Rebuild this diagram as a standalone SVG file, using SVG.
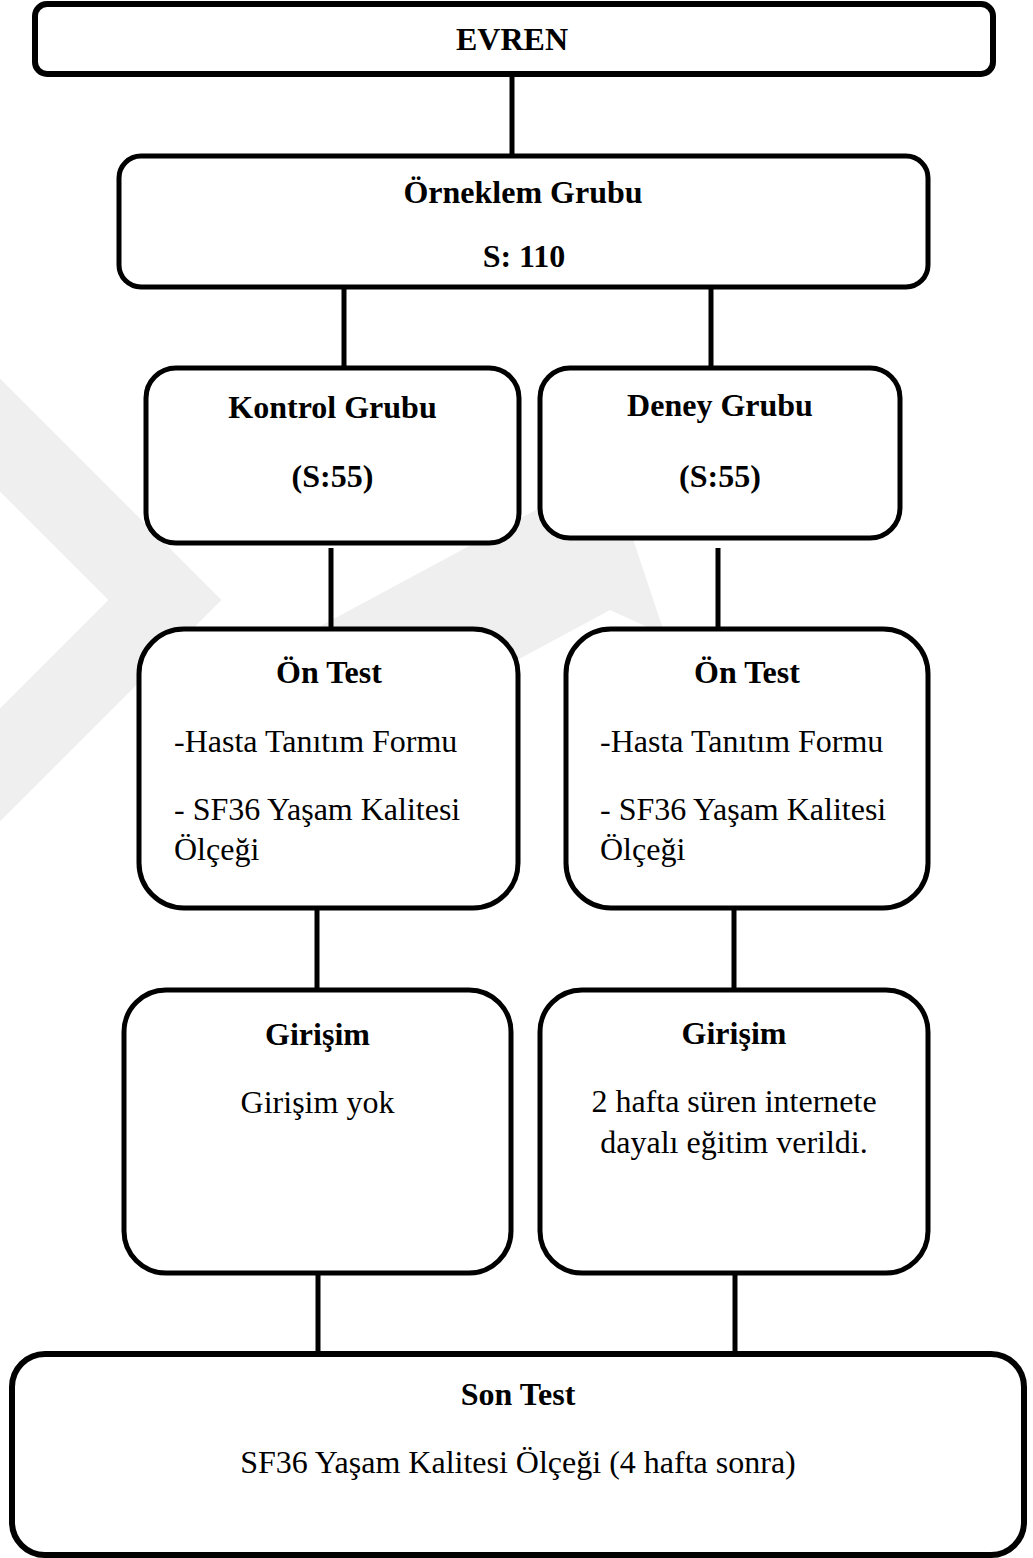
<svg xmlns="http://www.w3.org/2000/svg" width="1033" height="1558" viewBox="0 0 1033 1558">
<style>
.box{fill:#fff;stroke:#000;stroke-width:5}
.thick{stroke-width:6}
.ln{stroke:#000;stroke-width:5;fill:none}
.wm{fill:none;stroke:#efefef;stroke-width:80;stroke-linejoin:miter}
.wmf{fill:#efefef;stroke:none}
text{font-family:"Liberation Serif","Times New Roman",serif;font-size:32px;fill:#000}
.b{font-weight:bold}
.c{text-anchor:middle}
</style>
<rect width="1033" height="1558" fill="#fff"/>
<g id="watermark">
<path class="wm" d="M -80,355 L 165,600 L -80,845"/>
<polygon class="wmf" points="250,664 610,470 665,635 610,610 250,804"/>
</g>
<g id="connectors">
<line class="ln" x1="512" y1="76" x2="512" y2="156"/>
<line class="ln" x1="344" y1="287" x2="344" y2="368"/>
<line class="ln" x1="711" y1="287" x2="711" y2="368"/>
<line class="ln" x1="331" y1="548" x2="331" y2="629"/>
<line class="ln" x1="718" y1="548" x2="718" y2="629"/>
<line class="ln" x1="317" y1="908" x2="317" y2="990"/>
<line class="ln" x1="734" y1="908" x2="734" y2="990"/>
<line class="ln" x1="318" y1="1273" x2="318" y2="1354"/>
<line class="ln" x1="735" y1="1273" x2="735" y2="1354"/>
</g>
<g id="evren">
<rect class="box thick" x="35" y="4" width="958" height="70" rx="12"/>
<text class="b c" x="512" y="50">EVREN</text>
</g>
<g id="orneklem">
<rect class="box" x="119" y="156" width="809" height="131" rx="22"/>
<text class="b c" x="523" y="203">Örneklem Grubu</text>
<text class="b c" x="524" y="267">S: 110</text>
</g>
<g id="kontrol">
<rect class="box" x="146" y="368" width="373" height="175" rx="30"/>
<text class="b c" x="332.5" y="418">Kontrol Grubu</text>
<text class="b c" x="332.5" y="487">(S:55)</text>
</g>
<g id="deney">
<rect class="box" x="540" y="368" width="360" height="170" rx="30"/>
<text class="b c" x="720" y="416">Deney Grubu</text>
<text class="b c" x="720" y="487">(S:55)</text>
</g>
<g id="ontest-kontrol">
<rect class="box" x="139" y="629" width="379" height="279" rx="45"/>
<text class="b c" x="329" y="683">Ön Test</text>
<text x="174" y="752">-Hasta Tanıtım Formu</text>
<text x="174" y="820">- SF36 Yaşam Kalitesi</text>
<text x="174" y="860">Ölçeği</text>
</g>
<g id="ontest-deney">
<rect class="box" x="566" y="629" width="362" height="279" rx="45"/>
<text class="b c" x="747" y="683">Ön Test</text>
<text x="600" y="752">-Hasta Tanıtım Formu</text>
<text x="600" y="820">- SF36 Yaşam Kalitesi</text>
<text x="600" y="860">Ölçeği</text>
</g>
<g id="girisim-kontrol">
<rect class="box" x="124" y="990" width="387" height="283" rx="42"/>
<text class="b c" x="317.5" y="1045">Girişim</text>
<text class="c" x="317.5" y="1113">Girişim yok</text>
</g>
<g id="girisim-deney">
<rect class="box" x="540" y="990" width="388" height="283" rx="42"/>
<text class="b c" x="734" y="1044">Girişim</text>
<text class="c" x="734" y="1112">2 hafta süren internete</text>
<text class="c" x="734" y="1153">dayalı eğitim verildi.</text>
</g>
<g id="sontest">
<rect class="box thick" x="12" y="1354" width="1012" height="201" rx="33"/>
<text class="b c" x="518" y="1405">Son Test</text>
<text class="c" x="518" y="1473">SF36 Yaşam Kalitesi Ölçeği (4 hafta sonra)</text>
</g>
</svg>
